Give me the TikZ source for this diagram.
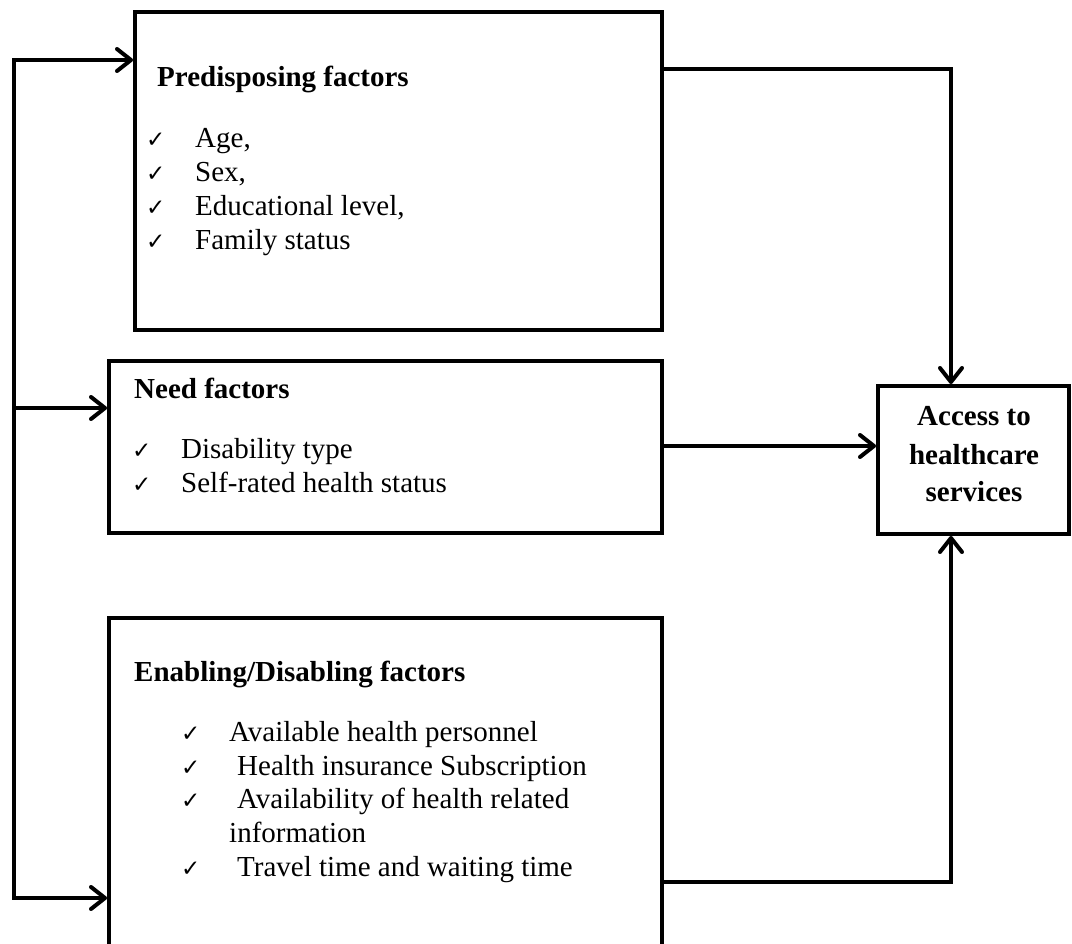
\documentclass[tikz,border=0pt]{standalone}
\usepackage{fontspec}
\setmainfont{Liberation Serif}
\newfontfamily\chkfont{DejaVu Sans}
\usetikzlibrary{arrows.meta}
\begin{document}
\begin{tikzpicture}[x=1pt,y=1pt,
  box/.style={draw, rectangle, line width=4pt, inner sep=0pt},
  conn/.style={line width=4pt, line join=miter},
  arr/.style={conn, -{Straight Barb[length=14pt,width=22pt,round]}},
  txt/.style={anchor=base west, inner sep=0pt, font=\fontsize{29}{34.5}\selectfont},
  ttl/.style={anchor=base west, inner sep=0pt, font=\fontsize{29}{34.5}\selectfont\bfseries},
  ctl/.style={anchor=base, inner sep=0pt, font=\fontsize{29}{34.5}\selectfont\bfseries},
  chk/.style={anchor=base west, inner sep=0pt, font=\chkfont\fontsize{23}{26}\selectfont}]
\useasboundingbox (0,0) rectangle (1072,-944);
\clip (0,0) rectangle (1072,-944);
% boxes
\node[box, minimum width=527pt, minimum height=318pt] (b1) at (398.5,-171) {};
\node[box, minimum width=553pt, minimum height=172pt] (b2) at (385.5,-447) {};
\node[box, minimum width=553pt, minimum height=362pt] (b3) at (385.5,-799) {};
\node[box, minimum width=191pt, minimum height=148pt] (b4) at (973.5,-460) {};
% predisposing
\node[ttl] (t1) at (157,-87) {Predisposing factors};
\node[chk] (c11) at (146,-148) {✓};
\node[txt] (p1) at (195,-148) {Age,};
\node[chk] (c12) at (146,-182) {✓};
\node[txt] (p2) at (195,-182) {Sex,};
\node[chk] (c13) at (146,-216) {✓};
\node[txt] (p3) at (195,-216) {Educational level,};
\node[chk] (c14) at (146,-250) {✓};
\node[txt] (p4) at (195,-250) {Family status};
% need
\node[ttl] (t2) at (134,-398) {Need factors};
\node[chk] (c21) at (132,-458) {✓};
\node[txt] (n1) at (181,-458) {Disability type};
\node[chk] (c22) at (132,-492) {✓};
\node[txt] (n2) at (181,-492) {Self-rated health status};
% enabling
\node[ttl] (t3) at (134,-681) {Enabling/Disabling factors};
\node[chk] (c31) at (181,-741) {✓};
\node[txt] (e1) at (229,-741) {Available health personnel};
\node[chk] (c32) at (181,-775) {✓};
\node[txt] (e2) at (237,-775) {Health insurance Subscription};
\node[chk] (c33) at (181,-808) {✓};
\node[txt] (e3) at (237,-808) {Availability of health related};
\node[txt] (e4) at (229,-842) {information};
\node[chk] (c34) at (181,-876) {✓};
\node[txt] (e5) at (237,-876) {Travel time and waiting time};
% access
\node[ctl] (a1) at (974,-425) {Access to};
\node[ctl] (a2) at (974,-464) {healthcare};
\node[ctl] (a3) at (974,-501) {services};
% left bus
\coordinate (bt) at (14,-60);
\coordinate (bm) at (14,-408);
\coordinate (bb) at (14,-898);
\draw[arr] (bb) -- (bt) -- (bt -| b1.west);
\draw[arr] (bt) -- (bb) -- (bb -| b3.west);
\draw[arr] (bm) -- (bm -| b2.west);
% right connectors
\coordinate (rt) at (951,-69);
\coordinate (rm) at (770,-446);
\coordinate (rb) at (951,-882);
\draw[arr] (rt -| b1.east) -- (rt) -- (rt |- b4.north);
\draw[arr] (rm -| b2.east) -- (rm -| b4.west);
\draw[arr] (rb -| b3.east) -- (rb) -- (rb |- b4.south);
\end{tikzpicture}
\end{document}
